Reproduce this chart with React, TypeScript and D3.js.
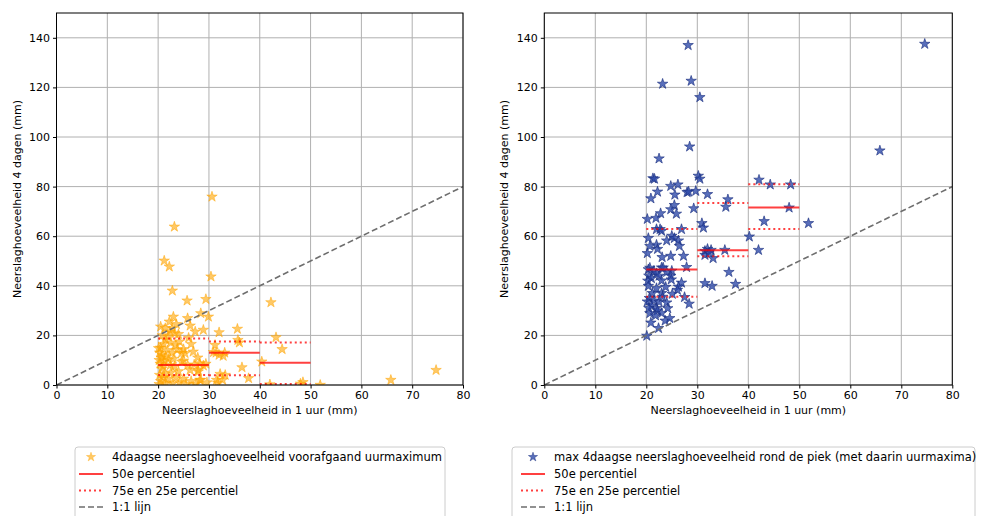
import React, { useRef, useEffect } from 'react';
import * as d3 from 'd3';

// 4daagse neerslag voorafgaand aan uurmaximum: [uurmaximum, 4-daagse som]
const leftPoints: [number, number][] = [
  [30.6, 75.9], [23.2, 63.8], [21.2, 50.1], [22.2, 47.7], [30.4, 43.7], [22.8, 38.0], [25.7, 34.0], [29.4, 34.6], [42.2, 33.3],
  [28.4, 28.9], [29.9, 27.5], [23.0, 27.5], [25.8, 26.9], [20.5, 23.5], [26.3, 23.9], [27.3, 21.5], [28.9, 22.2], [32.0, 21.2],
  [35.6, 22.6], [43.2, 19.2], [44.4, 14.4], [31.2, 16.1], [35.7, 18.1], [36.0, 17.1], [36.5, 7.1], [37.8, 2.7], [32.8, 11.7],
  [32.0, 12.1], [31.4, 13.0], [30.9, 13.2], [33.1, 13.0], [40.4, 9.4], [48.5, 1.1], [48.0, 0.5], [51.9, 0.0], [33.2, 4.0],
  [32.7, 2.0], [31.7, 0.9], [42.0, 0.2], [28.2, 2.0], [27.9, 5.4], [25.0, 9.8], [65.8, 2.0], [74.7, 6.0], [31.5, 2.0], [32.2, 4.4],
  [21.4, 22.9], [22.3, 21.5], [23.3, 20.8], [22.0, 19.5], [21.5, 18.2], [22.5, 17.0], [23.5, 16.0], [21.0, 16.5], [20.5, 15.0],
  [20.1, 14.8], [20.3, 13.0], [20.8, 12.0], [21.5, 11.5], [22.8, 13.0], [23.8, 14.2], [25.0, 14.4], [24.6, 12.8], [25.3, 12.8],
  [26.9, 13.4], [24.2, 17.5], [26.0, 19.0], [23.6, 24.5], [22.2, 25.5], [20.6, 11.0], [20.2, 10.0], [21.2, 9.5], [22.0, 10.2],
  [20.4, 8.5], [21.0, 7.5], [20.7, 6.5], [22.4, 8.0], [23.2, 7.5], [24.6, 9.4], [25.8, 8.0], [27.1, 8.2], [28.2, 8.7], [28.9, 7.8],
  [29.4, 8.5], [26.3, 6.0], [27.9, 6.0], [24.0, 5.5], [22.5, 5.0], [21.3, 4.5], [20.3, 4.0], [20.9, 3.0], [22.0, 2.5], [23.5, 3.0],
  [25.0, 2.5], [26.5, 1.5], [28.4, 2.0], [20.5, 1.5], [21.5, 0.8], [22.8, 0.5], [24.2, 1.0], [20.2, 0.3], [25.5, 0.3], [27.5, 0.5],
  [29.6, 1.0], [23.0, 10.5], [21.8, 14.0], [24.0, 20.5], [20.8, 20.0], [22.8, 22.8], [26.5, 16.5], [27.8, 11.0],
];

// max 4daagse neerslag rond de piek
const rightPoints: [number, number][] = [
  [74.6, 137.5], [65.8, 94.5], [51.8, 65.2], [28.2, 137.0], [28.8, 122.6], [23.2, 121.4], [30.5, 116.0], [28.5, 96.1], [22.5, 91.3],
  [21.3, 83.3], [21.6, 83.1], [30.2, 84.3], [30.5, 83.1], [42.1, 82.7], [44.3, 80.8], [48.3, 80.8], [24.8, 80.2], [26.2, 80.8],
  [22.2, 77.9], [25.6, 76.7], [28.0, 77.7], [28.3, 77.9], [29.7, 78.2], [32.0, 76.9], [20.9, 75.2], [36.0, 74.8], [35.6, 71.8],
  [25.5, 72.5], [24.8, 70.8], [25.9, 69.0], [29.3, 71.2], [48.0, 71.5], [22.8, 69.2], [21.9, 67.3], [20.2, 66.9], [30.9, 65.2],
  [31.2, 63.4], [43.1, 66.0], [22.0, 62.8], [22.7, 62.8], [23.0, 62.1], [26.9, 62.8], [40.2, 59.8], [20.4, 59.2], [24.0, 58.2],
  [25.0, 60.1], [25.5, 59.2], [26.3, 58.2], [20.7, 56.0], [22.0, 56.5], [22.2, 54.8], [26.5, 56.0], [20.2, 53.1], [23.1, 51.5],
  [24.8, 52.0], [27.3, 52.0], [42.0, 54.4], [31.5, 54.0], [32.0, 54.8], [32.7, 54.4], [35.4, 54.4], [31.5, 52.4], [33.1, 51.1],
  [32.3, 53.3], [20.7, 47.2], [23.0, 47.3], [23.3, 47.3], [27.9, 47.5], [20.4, 46.6], [21.5, 46.0], [22.0, 45.0], [24.0, 45.5],
  [25.0, 46.0], [20.5, 44.0], [21.0, 43.0], [22.5, 44.0], [24.8, 44.0], [20.3, 42.0], [23.0, 42.1], [24.9, 42.5], [36.2, 45.5],
  [31.5, 41.0], [32.9, 39.9], [37.5, 40.7], [26.9, 41.2], [26.3, 39.6], [26.1, 38.3], [25.1, 36.7], [27.5, 35.4], [28.4, 32.7],
  [23.0, 37.0], [21.2, 37.0], [20.4, 39.9], [22.0, 39.0], [23.8, 39.5], [20.2, 33.6], [20.6, 35.0], [21.5, 34.0], [22.5, 33.5],
  [23.2, 35.5], [24.0, 33.2], [21.0, 32.0], [22.0, 31.0], [24.2, 30.9], [20.7, 28.9], [22.2, 30.0], [23.0, 29.0], [20.9, 25.1],
  [23.7, 25.9], [24.6, 26.9], [22.4, 22.9], [20.1, 19.8], [20.5, 31.0], [21.8, 28.0],
];

// percentielen per klasse van 10 mm
const binStarts = [20, 30, 40];
const leftP50 = [8.1, 13.0, 9.0];
const leftP75 = [18.7, 17.5, 17.1];
const leftP25 = [4.0, 3.9, 0.4];
const rightP50 = [46.6, 54.3, 71.6];
const rightP75 = [62.9, 73.4, 80.9];
const rightP25 = [35.6, 51.9, 62.9];

const xTicks = [0, 10, 20, 30, 40, 50, 60, 70, 80];
const yTicks = [0, 20, 40, 60, 80, 100, 120, 140];

const leftLabels = ['4daagse neerslaghoeveelheid voorafgaand uurmaximum', '50e percentiel', '75e en 25e percentiel', '1:1 lijn'];
const rightLabels = ['max 4daagse neerslaghoeveelheid rond de piek (met daarin uurmaxima)', '50e percentiel', '75e en 25e percentiel', '1:1 lijn'];

const FONT = 'DejaVu Sans, sans-serif';

const App = () => {
  const ref = useRef<SVGSVGElement>(null);

  useEffect(() => {
    const svg = d3.select(ref.current);
    svg.selectAll('*').remove();

    const panels = [
      { x0: 56.5, x1: 463, points: leftPoints, color: '#ffa500', edge: '#ffa500', opacity: 0.6, p50: leftP50, p75: leftP75, p25: leftP25,
        legend: { x: 75, w: 370, sx: 79, labels: leftLabels } },
      { x0: 544.3, x1: 952.3, points: rightPoints, color: '#2a47a8', edge: '#1a2f80', opacity: 0.78, p50: rightP50, p75: rightP75, p25: rightP25,
        legend: { x: 512, w: 463, sx: 521, labels: rightLabels } },
    ];
    const top = 13;
    const bottom = 385;
    const star = d3.symbol().type(d3.symbolStar).size(34);

    panels.forEach((p, i) => {
      const x = d3.scaleLinear().domain([0, 80]).range([p.x0, p.x1]);
      const y = d3.scaleLinear().domain([0, 150]).range([bottom, top]);
      const g = svg.append('g');
      const clipId = `clip${i}`;
      svg.append('clipPath').attr('id', clipId)
        .append('rect').attr('x', p.x0).attr('y', top).attr('width', p.x1 - p.x0).attr('height', bottom - top);

      // grid
      g.selectAll('.gx').data(xTicks).enter().append('line')
        .attr('x1', d => x(d)).attr('x2', d => x(d)).attr('y1', top).attr('y2', bottom)
        .attr('stroke', '#b0b0b0').attr('stroke-width', 1);
      g.selectAll('.gy').data(yTicks).enter().append('line')
        .attr('x1', p.x0).attr('x2', p.x1).attr('y1', d => y(d)).attr('y2', d => y(d))
        .attr('stroke', '#b0b0b0').attr('stroke-width', 1);

      const plot = g.append('g').attr('clip-path', `url(#${clipId})`);

      // stars
      plot.selectAll('path.pt').data(p.points).enter().append('path')
        .attr('class', 'pt')
        .attr('d', star)
        .attr('transform', d => `translate(${x(d[0])},${y(d[1])})`)
        .attr('fill', p.color).attr('fill-opacity', p.opacity)
        .attr('stroke', p.edge).attr('stroke-opacity', p.opacity).attr('stroke-width', 0.8);

      // 1:1 lijn
      plot.append('line')
        .attr('x1', x(0)).attr('y1', y(0)).attr('x2', x(80)).attr('y2', y(80))
        .attr('stroke', '#6e6e6e').attr('stroke-width', 1.6).attr('stroke-dasharray', '6,3');

      // percentielen
      binStarts.forEach((b, j) => {
        [p.p75[j], p.p25[j]].forEach(v => {
          plot.append('line')
            .attr('x1', x(b)).attr('x2', x(b + 10)).attr('y1', y(v)).attr('y2', y(v))
            .attr('stroke', 'red').attr('stroke-opacity', 0.75).attr('stroke-width', 2)
            .attr('stroke-dasharray', '2,3');
        });
        plot.append('line')
          .attr('x1', x(b)).attr('x2', x(b + 10)).attr('y1', y(p.p50[j])).attr('y2', y(p.p50[j]))
          .attr('stroke', 'red').attr('stroke-opacity', 0.75).attr('stroke-width', 2);
      });

      // frame
      g.append('rect').attr('x', p.x0).attr('y', top).attr('width', p.x1 - p.x0).attr('height', bottom - top)
        .attr('fill', 'none').attr('stroke', '#000').attr('stroke-width', 1);

      // axes
      const xa = g.append('g').attr('transform', `translate(0,${bottom})`)
        .call(d3.axisBottom(x).tickValues(xTicks).tickSize(3.5).tickPadding(3));
      const ya = g.append('g').attr('transform', `translate(${p.x0},0)`)
        .call(d3.axisLeft(y).tickValues(yTicks).tickSize(3.5).tickPadding(3));
      [xa, ya].forEach(a => {
        a.select('.domain').remove();
        a.selectAll('text').attr('font-family', FONT).attr('font-size', 11).attr('fill', '#000');
        a.selectAll('line').attr('stroke', '#000');
      });

      g.append('text').attr('x', (p.x0 + p.x1) / 2).attr('y', 414)
        .attr('text-anchor', 'middle').attr('font-family', FONT).attr('font-size', 11)
        .text('Neerslaghoeveelheid in 1 uur (mm)');
      g.append('text')
        .attr('transform', `translate(${p.x0 - 36},${(top + bottom) / 2}) rotate(-90)`)
        .attr('text-anchor', 'middle').attr('font-family', FONT).attr('font-size', 11)
        .text('Neerslaghoeveelheid 4 dagen (mm)');

      // legend
      const lg = svg.append('g');
      const L = p.legend;
      lg.append('rect').attr('x', L.x).attr('y', 447).attr('width', L.w).attr('height', 80)
        .attr('rx', 3).attr('fill', '#fff').attr('stroke', '#cccccc');
      const rows = [457, 474, 490.5, 507];
      const sx = L.sx;
      lg.append('path').attr('d', d3.symbol().type(d3.symbolStar).size(26))
        .attr('transform', `translate(${sx + 12},${rows[0]})`)
        .attr('fill', p.color).attr('fill-opacity', p.opacity)
        .attr('stroke', p.edge).attr('stroke-opacity', p.opacity).attr('stroke-width', 0.6);
      lg.append('line').attr('x1', sx).attr('x2', sx + 24).attr('y1', rows[1]).attr('y2', rows[1])
        .attr('stroke', 'red').attr('stroke-opacity', 0.75).attr('stroke-width', 2);
      lg.append('line').attr('x1', sx).attr('x2', sx + 24).attr('y1', rows[2]).attr('y2', rows[2])
        .attr('stroke', 'red').attr('stroke-opacity', 0.75).attr('stroke-width', 2).attr('stroke-dasharray', '2,3');
      lg.append('line').attr('x1', sx).attr('x2', sx + 24).attr('y1', rows[3]).attr('y2', rows[3])
        .attr('stroke', '#6e6e6e').attr('stroke-width', 1.6).attr('stroke-dasharray', '6,3');
      lg.selectAll('text.lt').data(L.labels).enter().append('text')
        .attr('x', sx + 33).attr('y', (_, k) => rows[k]).attr('dy', '0.35em')
        .attr('font-family', FONT).attr('font-size', 11.5).attr('fill', '#000')
        .text(d => d);
    });
  }, []);

  return (
    <div style={{ position: 'absolute', left: 0, top: 0 }}>
      <svg ref={ref} width={981} height={516} style={{ display: 'block' }} />
    </div>
  );
};

export default App;
